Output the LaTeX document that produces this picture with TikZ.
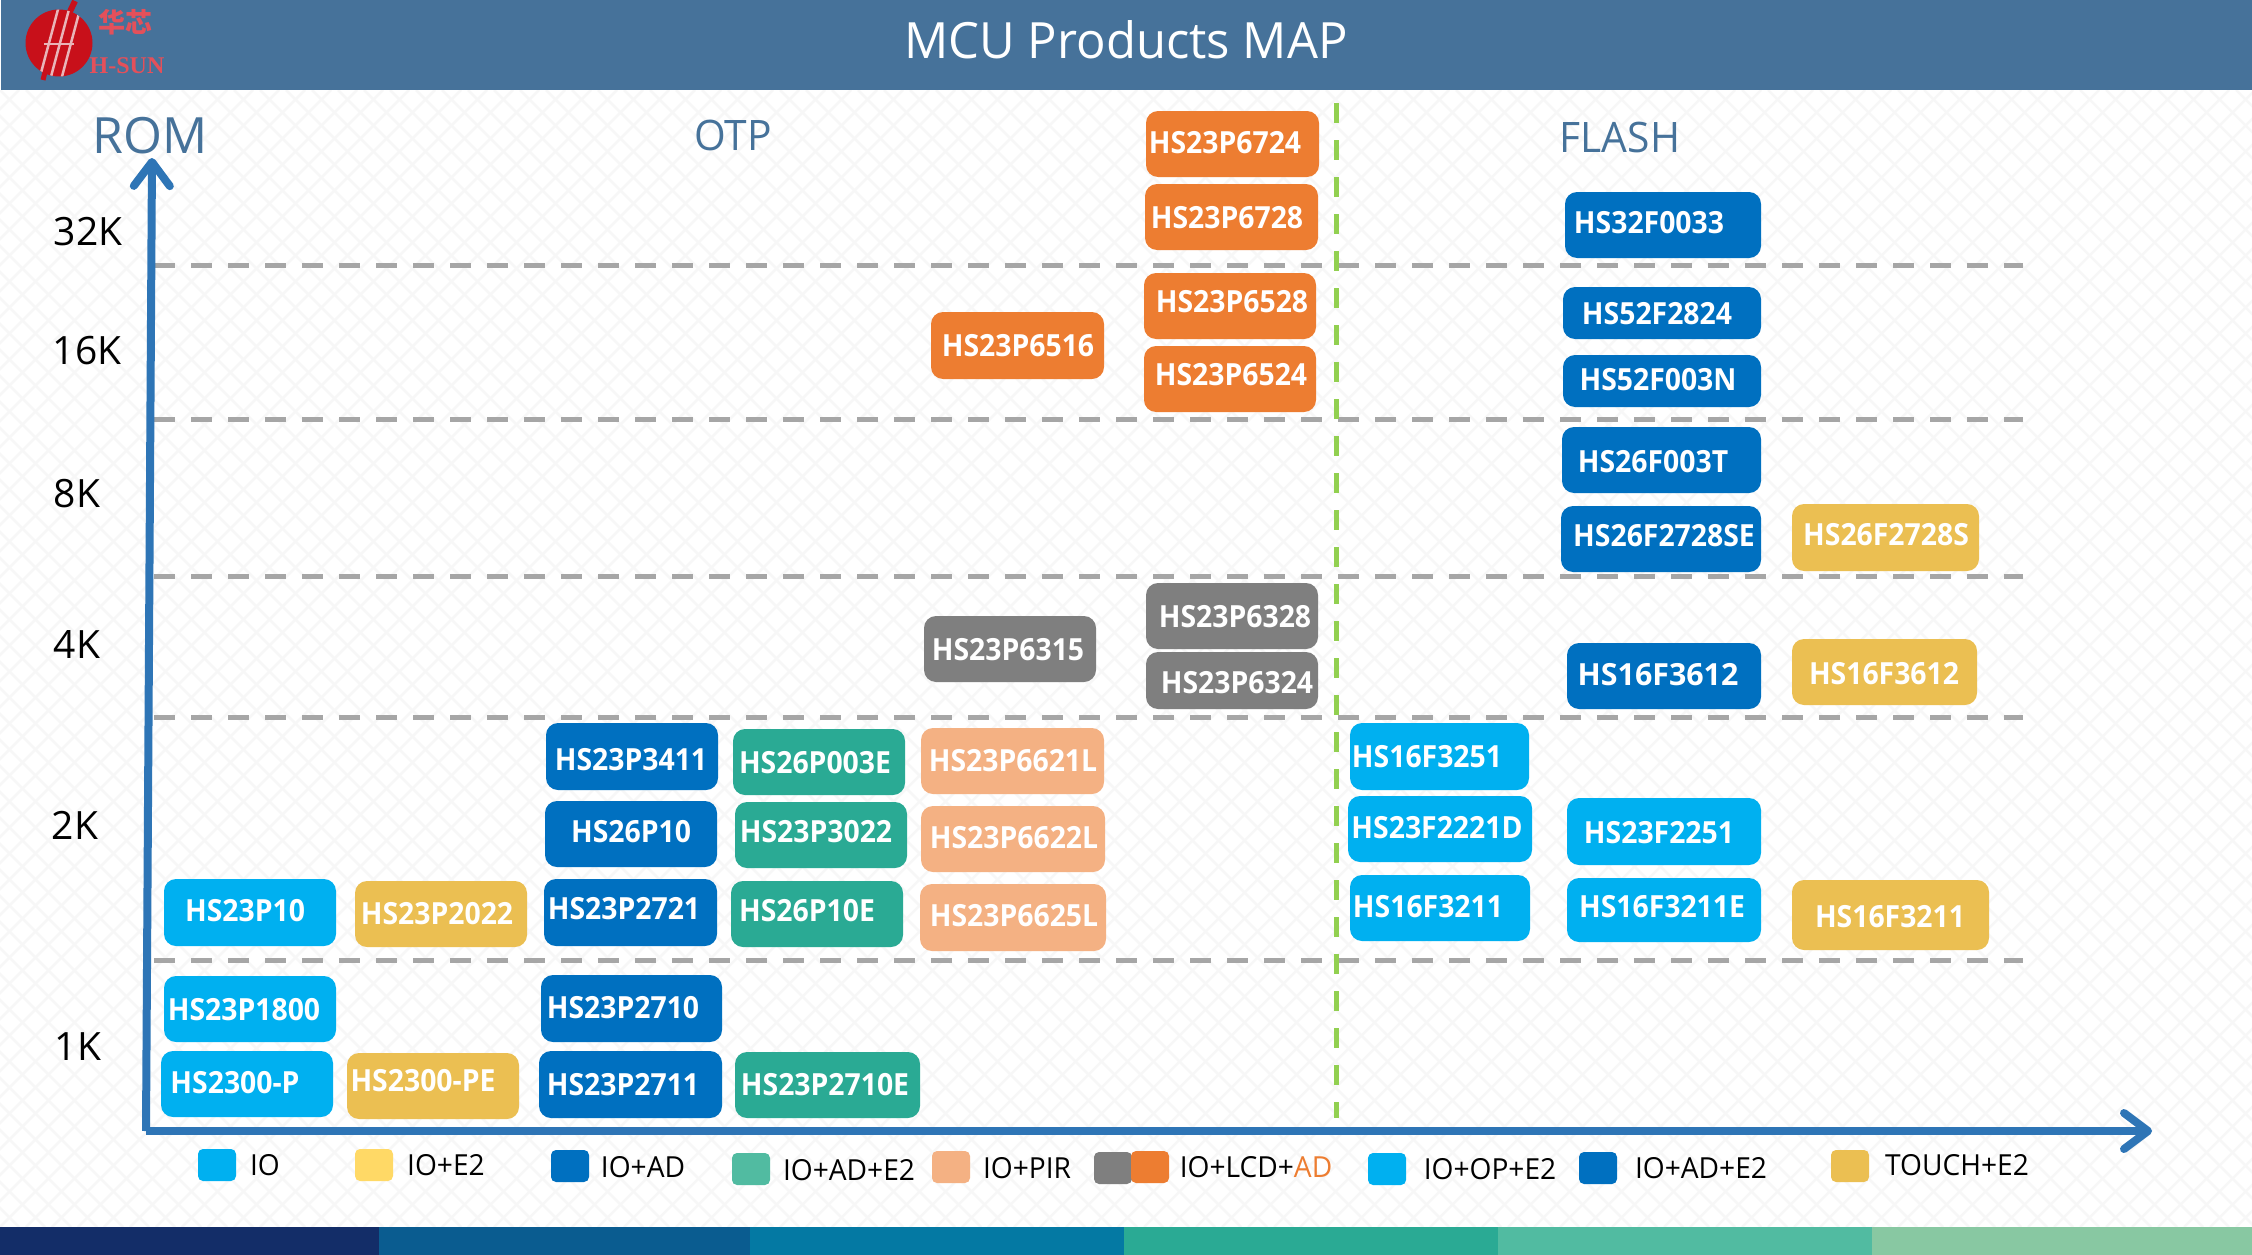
\documentclass[tikz,border=0pt]{standalone}
\usepackage{fontspec}
\usetikzlibrary{arrows.meta}
\setmainfont{Open Sans}
\newfontfamily\chipfont[FakeStretch=0.93]{Open Sans}
\newfontfamily\legfont[FakeStretch=0.97]{Open Sans}
\newfontfamily\titlefont[FakeStretch=0.98]{Open Sans}
\newfontfamily\cjkfont{Noto Sans CJK SC}
\newfontfamily\logofont{Liberation Serif}
\definecolor{hdr}{HTML}{46729A}
\definecolor{axisblue}{HTML}{2E75B6}
\definecolor{dashgray}{HTML}{A6A6A6}
\definecolor{sepgreen}{HTML}{92D050}
\definecolor{cio}{HTML}{00B0F0}
\definecolor{cad}{HTML}{0070C0}
\definecolor{cteal}{HTML}{2AAA94}
\definecolor{cyel}{HTML}{EBBF52}
\definecolor{clegyel}{HTML}{FFD966}
\definecolor{clegteal}{HTML}{51BBA1}
\definecolor{cpeach}{HTML}{F4B183}
\definecolor{corange}{HTML}{ED7D31}
\definecolor{cgray}{HTML}{7F7F7F}
\definecolor{logored}{HTML}{C8101A}
\definecolor{logotxt}{HTML}{E4505A}
\definecolor{logogap}{HTML}{E9B4B8}
\definecolor{fa}{HTML}{132D68}
\definecolor{fb}{HTML}{0A5C90}
\definecolor{fc}{HTML}{0479A3}
\definecolor{fd}{HTML}{2AAA94}
\definecolor{fe}{HTML}{51BBA1}
\definecolor{ff}{HTML}{88C8A2}
\tikzset{
  chipbox/.style={rectangle,rounded corners=12pt,inner sep=0pt,draw=none},
  chiptext/.style={inner sep=0pt,text=white,text height=22pt,text depth=0pt,yshift=-0.5pt,font=\chipfont\bfseries\fontsize{30.5}{31}\selectfont},
  legbox/.style={rectangle,rounded corners=5pt,inner sep=0pt,draw=none,minimum width=38pt,minimum height=32pt},
  legtext/.style={inner sep=0pt,text=black,text height=21pt,text depth=0pt,font=\legfont\fontsize{29}{30}\selectfont},
  ylab/.style={inner sep=0pt,text=black,text height=28pt,text depth=0pt,font=\fontsize{39}{40}\selectfont},
  memlab/.style={inner sep=0pt,text=hdr,text height=30pt,text depth=0pt,font=\legfont\fontsize{42}{44}\selectfont},
  gridline/.style={draw=dashgray,line width=5pt,dash pattern=on 21pt off 16pt},
  sepline/.style={draw=sepgreen,line width=5pt,dash pattern=on 20pt off 17pt},
  axisline/.style={draw=axisblue,line width=8pt,-{Straight Barb[length=24pt,width=36pt,line width=8pt,round]}}
}
% id, x0,y0,x1,y1, colour, text cx, text cy, text
\newcommand{\chip}[9]{%
  \node[chipbox,fill=#6,minimum width={(#4-#2)*1pt},minimum height={(#5-#3)*1pt}] (#1) at ({(#2+#4)/2},{(#3+#5)/2}) {};
  \node[chiptext] (#1t) at (#7,#8) {#9};
}
\newcommand{\legsq}[4]{\node[legbox,fill=#4] (#1) at (#2,#3) {};}
\newcommand{\legtx}[4]{\node[legtext] (#1) at (#2,#3) {#4};}
\begin{document}
\begin{tikzpicture}[x=1pt,y=-1pt]
\useasboundingbox (0,0) rectangle (2252,1255);
\fill[white] (0,0) rectangle (2252,1255);
% faint lattice
\begin{scope}
\clip (0,90) rectangle (2252,1227);
\foreach \k in {-50,...,140}{
  \draw[line width=2.5pt,draw=black!3] ({\k*26},90) -- ({\k*26+1137},1227);
  \draw[line width=2.5pt,draw=black!3] ({\k*26},1227) -- ({\k*26+1137},90);
}
\end{scope}
% header
\fill[hdr] (1,0) rectangle (2252,90);
\node[inner sep=0pt,text=white,text height=36pt,text depth=0pt,font=\titlefont\fontsize{50}{52}\selectfont] (title) at (1126,41) {MCU Products MAP};
% logo
\fill[logored] (59,43) circle (33.5);
\draw[logored,line width=6pt] (66,20) -- (75,1);
\draw[logored,line width=5pt] (48,60) -- (43,80);
\begin{scope}
\clip (59,43) circle (33.5);
\draw[logogap,line width=2.5pt] (60,2) -- (38,84);
\draw[logogap,line width=2.5pt] (71,2) -- (49,84);
\draw[logogap,line width=2.5pt] (82,2) -- (60,84);
\draw[logogap,line width=2.5pt] (44,44) -- (74,44);
\end{scope}
\node[inner sep=0pt,text=logotxt,font=\cjkfont\bfseries\fontsize{27}{27}\selectfont] (logocn) at (125,22) {华芯};
\node[inner sep=0pt,text=logotxt,font=\logofont\bfseries\fontsize{24}{24}\selectfont] (logoen) at (127,66) {H-SUN};
% footer
\fill[fa] (0,1227) rectangle (379,1255);
\fill[fb] (379,1227) rectangle (750,1255);
\fill[fc] (750,1227) rectangle (1124,1255);
\fill[fd] (1124,1227) rectangle (1498,1255);
\fill[fe] (1498,1227) rectangle (1872,1255);
\fill[ff] (1872,1227) rectangle (2252,1255);
% grid
\coordinate (g1a) at (154,265); \coordinate (g1b) at (2023,265);
\coordinate (g2a) at (154,419); \coordinate (g2b) at (2023,419);
\coordinate (g3a) at (154,576); \coordinate (g3b) at (2023,576);
\coordinate (g4a) at (154,717); \coordinate (g4b) at (2023,717);
\coordinate (g5a) at (154,960); \coordinate (g5b) at (2023,960);
\foreach \g in {g1,g2,g3,g4,g5}{\draw[gridline] (\g a) -- (\g b);}
\coordinate (sa) at (1336,103); \coordinate (sb) at (1336,1118);
\draw[sepline] (sa) -- (sb);
% axes
\coordinate (org) at (146,1131); \coordinate (ytip) at (152,158); \coordinate (xtip) at (2152,1131);
\draw[axisline] (org) -- (ytip);
\draw[axisline] (org) -- (xtip);
% axis labels
\node[inner sep=0pt,text=hdr,text height=36pt,text depth=0pt,font=\fontsize{50}{52}\selectfont] (rom) at (150,135) {ROM};
\node[memlab] (otp) at (733,135) {OTP};
\node[memlab] (flash) at (1620,137) {FLASH};
\node[ylab] (y32) at (88,231) {32K};
\node[ylab] (y16) at (87,350) {16K};
\node[ylab] (y8) at (77,493) {8K};
\node[ylab] (y4) at (77,644) {4K};
\node[ylab] (y2) at (75,825) {2K};
\node[ylab] (y1) at (78,1046) {1K};
% chips
\chip{a1}{1146}{111}{1319}{177}{corange}{1225}{142}{HS23P6724}
\chip{a2}{1145}{184}{1318}{250}{corange}{1227}{217}{HS23P6728}
\chip{a3}{1144}{273}{1316}{339}{corange}{1232}{301}{HS23P6528}
\chip{a4}{1144}{346}{1316}{412}{corange}{1231}{374}{HS23P6524}
\chip{a5}{931}{312}{1104}{379}{corange}{1018}{345}{HS23P6516}
\chip{b1}{1565}{192}{1761}{258}{cad}{1649}{222}{HS32F0033}
\chip{b2}{1563}{287}{1761}{339}{cad}{1657}{313}{HS52F2824}
\chip{b3}{1563}{355}{1761}{407}{cad}{1658}{379}{HS52F003N}
\chip{b4}{1562}{427}{1761}{493}{cad}{1653}{461}{HS26F003T}
\chip{b5}{1561}{506}{1761}{572}{cad}{1664}{535}{HS26F2728SE}
\chip{b6}{1792}{504}{1979}{571}{cyel}{1886}{534}{HS26F2728S}
\chip{c1}{546}{723}{718}{790}{cad}{631}{759}{HS23P3411}
\chip{c2}{733}{729}{905}{795}{cteal}{815}{762}{HS26P003E}
\chip{c3}{545}{801}{717}{867}{cad}{631}{831}{HS26P10}
\chip{c4}{735}{802}{907}{868}{cteal}{816}{831}{HS23P3022}
\chip{c5}{164}{879}{336}{946}{cio}{245}{910}{HS23P10}
\chip{c6}{355}{881}{527}{947}{cyel}{437}{913}{HS23P2022}
\chip{c7}{544}{879}{717}{946}{cad}{624}{908}{HS23P2721}
\chip{c8}{731}{881}{903}{947}{cteal}{807}{910}{HS26P10E}
\chip{c9}{164}{976}{336}{1042}{cio}{244}{1009}{HS23P1800}
\chip{c10}{541}{975}{722}{1042}{cad}{623}{1007}{HS23P2710}
\chip{c11}{161}{1051}{333}{1117}{cio}{235}{1082}{HS2300-P}
\chip{c12}{347}{1053}{519}{1119}{cyel}{423}{1080}{HS2300-PE}
\chip{c13}{539}{1051}{722}{1118}{cad}{623}{1084}{HS23P2711}
\chip{c14}{735}{1052}{920}{1118}{cteal}{825}{1084}{HS23P2710E}
\chip{d1}{924}{616}{1096}{682}{cgray}{1008}{649}{HS23P6315}
\chip{d2}{1146}{583}{1318}{649}{cgray}{1235}{616}{HS23P6328}
\chip{d3}{1146}{652}{1318}{709}{cgray}{1237}{682}{HS23P6324}
\chip{d4}{921}{728}{1104}{794}{cpeach}{1013}{760}{HS23P6621L}
\chip{d5}{921}{806}{1105}{872}{cpeach}{1014}{837}{HS23P6622L}
\chip{d6}{920}{884}{1106}{951}{cpeach}{1014}{915}{HS23P6625L}
\chip{e1}{1350}{723}{1529}{790}{cio}{1427}{756}{HS16F3251}
\chip{e2}{1348}{796}{1532}{862}{cio}{1437}{827}{HS23F2221D}
\chip{e3}{1350}{875}{1530}{941}{cio}{1428}{906}{HS16F3211}
\chip{e4}{1567}{643}{1761}{709}{cad}{1658}{674}{\scalebox{1.07}[1]{HS16F3612}}
\chip{e5}{1792}{639}{1977}{705}{cyel}{1884}{673}{HS16F3612}
\chip{e6}{1567}{798}{1761}{865}{cio}{1659}{832}{HS23F2251}
\chip{e7}{1567}{878}{1761}{942}{cio}{1662}{906}{HS16F3211E}
\chip{e8}{1792}{880}{1989}{950}{cyel}{1890}{916}{HS16F3211}
% legend
\legsq{l1}{217}{1165}{cio} \legtx{l1t}{265}{1165}{IO}
\legsq{l2}{374}{1165}{clegyel} \legtx{l2t}{446}{1165}{IO+E2}
\legsq{l3}{570}{1166}{cad} \legtx{l3t}{643}{1167}{IO+AD}
\legsq{l4}{751}{1169}{clegteal} \legtx{l4t}{849}{1170}{IO+AD+E2}
\legsq{l5}{951}{1167}{cpeach} \legtx{l5t}{1027}{1168}{IO+PIR}
\legsq{l6}{1113}{1168}{cgray} \legsq{l7}{1150}{1167}{corange}
\legtx{l7t}{1256}{1167}{IO+LCD+\textcolor{corange}{AD}}
\legsq{l8}{1387}{1169}{cio} \legtx{l8t}{1490}{1169}{IO+OP+E2}
\legsq{l9}{1598}{1168}{cad} \legtx{l9t}{1701}{1168}{IO+AD+E2}
\legsq{l10}{1850}{1166}{cyel} \legtx{l10t}{1957}{1165}{TOUCH+E2}
\end{tikzpicture}
\end{document}
